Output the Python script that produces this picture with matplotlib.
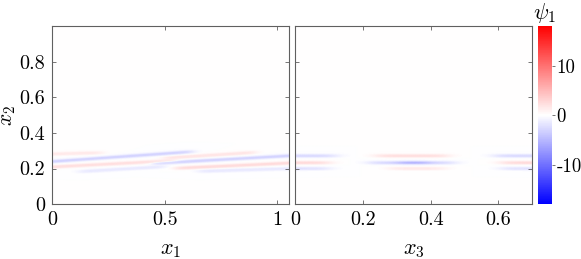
import numpy as np
import matplotlib
matplotlib.use("Agg")
import matplotlib.pyplot as plt
from matplotlib.colors import LinearSegmentedColormap

plt.rcParams['mathtext.fontset'] = 'cm'
plt.rcParams['font.family'] = 'cmr10'
plt.rcParams['axes.formatter.use_mathtext'] = True

# ---- data ----
# streaks in the (x1, x2) plane: start x1, end x1, x2 at start, x2 at end, amplitude
side_x_start = [-0.10, -0.10, -0.10, 0.12, 0.50, 0.45, 0.55, 0.65]
side_x_end   = [0.22, 0.62, 0.55, 0.50, 0.90, 1.15, 1.15, 1.15]
side_y_start = [0.282, 0.234, 0.206, 0.186, 0.262, 0.232, 0.205, 0.188]
side_y_end   = [0.292, 0.298, 0.248, 0.214, 0.294, 0.282, 0.240, 0.206]
side_amp     = [1.5, -3.0, 2.2, -1.5, 1.8, -3.0, 2.5, -1.5]

# streaks in the (x3, x2) plane: start x3, end x3, x2 level, amplitude
cross_x_start = [-0.10, -0.10, -0.10, 0.24, 0.22, 0.31, 0.28, 0.59, 0.61, 0.61]
cross_x_end   = [0.12, 0.10, 0.10, 0.45, 0.47, 0.39, 0.44, 0.80, 0.80, 0.80]
cross_y       = [0.275, 0.236, 0.203, 0.275, 0.236, 0.236, 0.203, 0.275, 0.236, 0.203]
cross_amp     = [-2.5, 2.5, -2.0, 2.2, -2.5, -3.0, 1.5, -2.5, 2.5, -2.0]

x1_ticks = [0, 0.5, 1]
x1_labels = ['0', '0.5', '1']
x2_ticks = [0, 0.2, 0.4, 0.6, 0.8]
x2_labels = ['0', '0.2', '0.4', '0.6', '0.8']
x3_ticks = [0, 0.2, 0.4, 0.6]
x3_labels = ['0', '0.2', '0.4', '0.6']
cb_ticks = [-10, 0, 10]
cb_labels = ['-10', '0', '10']
clim = 18.0
x1_max = 1.05
x3_max = 0.70


def build_field(xg, yg, xs, xe, ys, ye, amp, width=0.009, fade=0.03):
    X, Y = np.meshgrid(xg, yg)
    F = np.zeros_like(X)
    for a, b, c, d, A in zip(xs, xe, ys, ye, amp):
        t = np.clip((X - a) / (b - a), 0, 1)
        yc = c + (d - c) * t
        across = np.exp(-((Y - yc) / width) ** 2)
        along = 0.25 * (1 + np.tanh((X - a) / fade)) * (1 + np.tanh((b - X) / fade))
        F += A * across * along
    return F


cmap = LinearSegmentedColormap.from_list('bwr_m', [(0, 0, 1), (1, 1, 1), (1, 0, 0)])

fig = plt.figure(figsize=(5.81, 2.59), dpi=100)
ax1 = fig.add_axes([0.090, 0.212, 0.407, 0.687])
ax2 = fig.add_axes([0.508, 0.212, 0.408, 0.687])
cax = fig.add_axes([0.9255, 0.212, 0.025, 0.687])

y_grid = np.linspace(0, 1, 500)
x1_grid = np.linspace(0, x1_max, 400)
x3_grid = np.linspace(0, x3_max, 300)

F1 = build_field(x1_grid, y_grid, side_x_start, side_x_end, side_y_start, side_y_end, side_amp)
F2 = build_field(x3_grid, y_grid, cross_x_start, cross_x_end, cross_y, cross_y, cross_amp)

m1 = ax1.pcolormesh(x1_grid, y_grid, F1, cmap=cmap, vmin=-clim, vmax=clim, shading='gouraud')
m2 = ax2.pcolormesh(x3_grid, y_grid, F2, cmap=cmap, vmin=-clim, vmax=clim, shading='gouraud')

spine_col = '#606060'
for ax in (ax1, ax2):
    ax.set_ylim(0, 1)
    for s in ax.spines.values():
        s.set_color(spine_col)
        s.set_linewidth(0.8)
    ax.tick_params(direction='in', length=3, width=0.6, color=spine_col,
                   top=True, right=True, labelsize=14.5, pad=5)
    ax.set_yticks(x2_ticks)

ax1.set_xlim(0, x1_max)
ax1.set_xticks(x1_ticks)
ax1.set_xticklabels(x1_labels)
ax1.set_yticklabels(x2_labels)
ax1.set_xlabel(r'$x_1$', fontsize=16, labelpad=8)
ax1.set_ylabel(r'$x_2$', fontsize=15.5, labelpad=0)
ax1.yaxis.set_label_coords(-0.145, 0.5)

ax2.set_xlim(0, x3_max)
ax2.set_xticks(x3_ticks)
ax2.set_xticklabels(x3_labels)
ax2.set_yticklabels([])
ax2.set_xlabel(r'$x_3$', fontsize=16, labelpad=8)

cb = fig.colorbar(m1, cax=cax)
cb.set_ticks(cb_ticks)
cb.set_ticklabels(cb_labels)
cb.outline.set_visible(False)
cax.tick_params(direction='out', length=2, width=0.6, color=spine_col, labelsize=13.5, pad=1)
cax.set_title(r'$\psi_1$', fontsize=16, pad=5)

fig.savefig('out.png', dpi=100)
